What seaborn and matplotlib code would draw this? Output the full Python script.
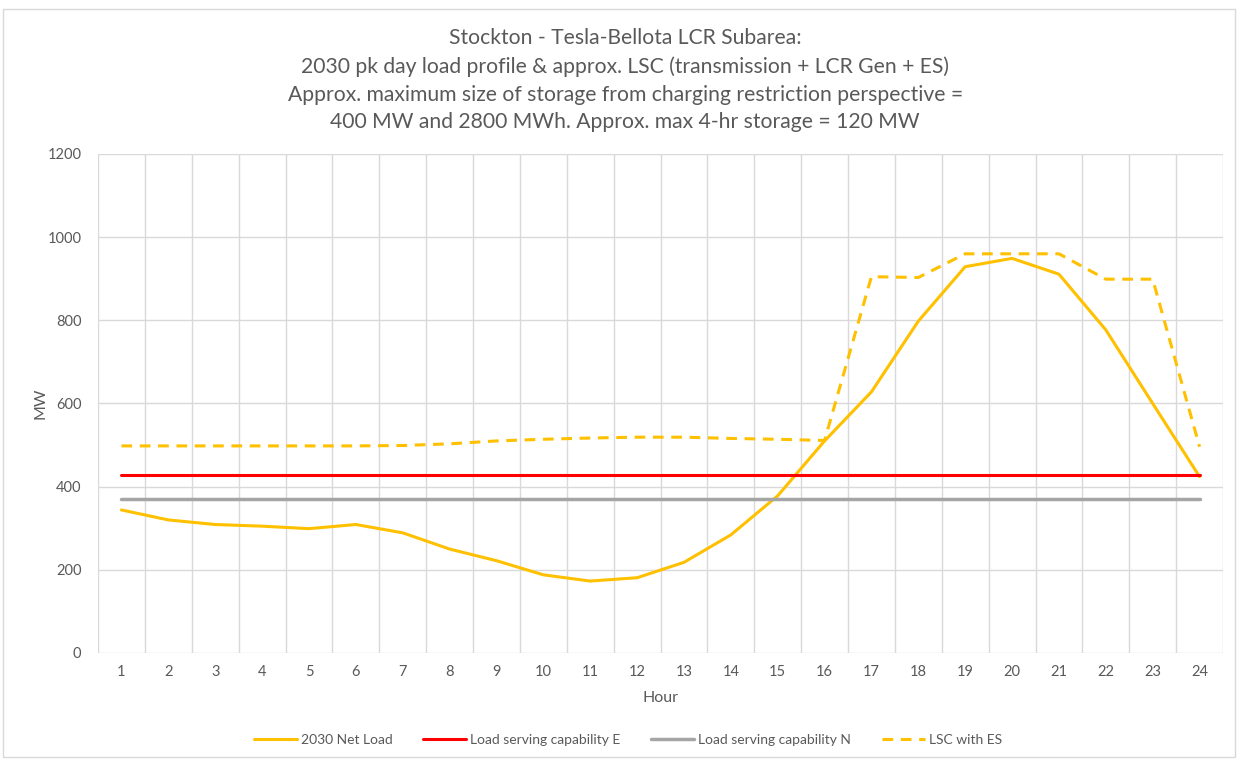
import numpy as np
import pandas as pd
import matplotlib.pyplot as plt
import seaborn as sns
from matplotlib.patches import Rectangle

hours = list(range(1, 25))
net_load = [344, 320, 309, 305, 299, 309, 289, 250, 222, 188, 173, 181,
            218, 284, 378, 510, 628, 798, 929, 949, 911, 777, 600, 424]
lsc_e = [428] * 24
lsc_n = [370] * 24
lsc_es = [498, 498, 498, 498, 498, 498, 499, 503, 510, 514, 517, 519,
          519, 516, 514, 511, 905, 903, 960, 960, 960, 899, 899, 496]

df = pd.DataFrame({'Hour': hours, '2030 Net Load': net_load,
                   'Load serving capability E': lsc_e,
                   'Load serving capability N': lsc_n,
                   'LSC with ES': lsc_es})

sns.set_style('white')
plt.rcParams['font.family'] = ['Lato', 'DejaVu Sans']
txt = '#595959'

fig = plt.figure(figsize=(12.38, 7.59), dpi=100)
ax = fig.add_axes([98 / 1238, 1 - 653 / 759, (1223 - 98) / 1238, (653 - 154) / 759])

lw = 2.2
sns.lineplot(data=df, x='Hour', y='2030 Net Load', color='#FFC000', lw=lw, ax=ax, label='2030 Net Load')
sns.lineplot(data=df, x='Hour', y='Load serving capability E', color='#FF0000', lw=lw, ax=ax, label='Load serving capability E')
sns.lineplot(data=df, x='Hour', y='Load serving capability N', color='#A5A5A5', lw=2.5, ax=ax, label='Load serving capability N')
sns.lineplot(data=df, x='Hour', y='LSC with ES', color='#FFC000', lw=lw, ls=(0, (3.5, 2.5)), ax=ax, label='LSC with ES')

ax.set_xlim(0.5, 24.5)
ax.set_ylim(0, 1200)
ax.set_yticks(range(0, 1201, 200))
ax.set_xticks(hours)
ax.set_xticks(np.arange(0.5, 25, 1), minor=True)
ax.grid(False)
ax.grid(True, which='minor', axis='x', color='#D9D9D9', lw=1)
ax.grid(True, which='major', axis='y', color='#D9D9D9', lw=1)
ax.set_axisbelow(True)
for s in ax.spines.values():
    s.set_visible(False)
ax.tick_params(which='both', length=0, labelsize=10.5, colors=txt, pad=9)
ax.tick_params(axis='y', pad=12)
ax.set_xlabel('Hour', fontsize=11.5, color=txt, labelpad=8)
ax.set_ylabel('MW', fontsize=11.5, color=txt, labelpad=0)

fig.suptitle('Stockton - Tesla-Bellota LCR Subarea:\n'
             '2030 pk day load profile & approx. LSC (transmission + LCR Gen + ES)\n'
             'Approx. maximum size of storage from charging restriction perspective =\n'
             '400 MW and 2800 MWh. Approx. max 4-hr storage = 120 MW',
             x=0.505, y=0.963, va='top', fontsize=15.2, color=txt, linespacing=1.49)

ax.legend(loc='center', bbox_to_anchor=(0.471, -0.175), ncol=4, frameon=False,
          fontsize=10, labelcolor=txt, handlelength=3.1, columnspacing=2.2, handletextpad=0.3)

fig.patches.append(Rectangle((3 / 1238, 2 / 759), 1232 / 1238, 748 / 759, transform=fig.transFigure,
                             fill=False, edgecolor='#D9D9D9', lw=1))

fig.savefig('out.png', dpi=100)
